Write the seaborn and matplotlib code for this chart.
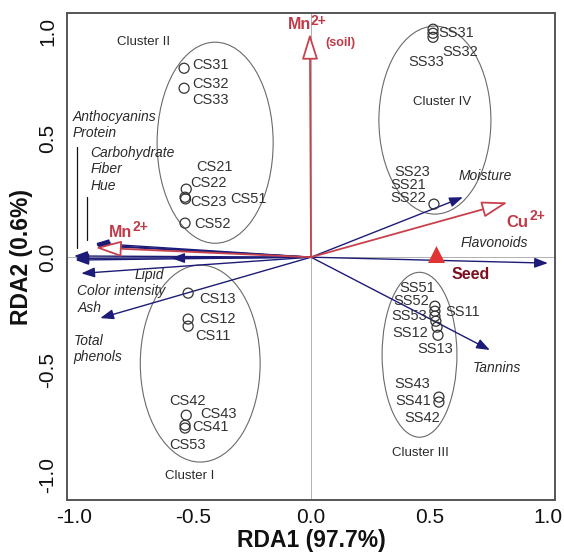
import matplotlib
matplotlib.use("Agg")
import matplotlib.pyplot as plt
from matplotlib.patches import Ellipse
from matplotlib.transforms import ScaledTranslation
import seaborn as sns
import pandas as pd

# ---------------- data ----------------
# sample scores (open circles)
pt_x = [-0.536, -0.536, -0.527, -0.532, -0.530, -0.532,
        0.515, 0.515, 0.515, 0.519,
        -0.519, -0.519, -0.519, -0.527, -0.532, -0.532,
        0.523, 0.523, 0.523, 0.527, 0.532, 0.536, 0.540, 0.540]
pt_y = [0.794, 0.710, 0.286, 0.252, 0.245, 0.143,
        0.958, 0.941, 0.924, 0.223,
        -0.151, -0.260, -0.290, -0.664, -0.706, -0.718,
        -0.206, -0.227, -0.248, -0.269, -0.294, -0.328, -0.588, -0.609]

# sample labels
lab_names = ["CS31", "CS32", "CS33", "CS21", "CS22", "CS23", "CS51", "CS52",
             "SS31", "SS32", "SS33", "SS23", "SS21", "SS22",
             "CS13", "CS12", "CS11", "CS42", "CS43", "CS41", "CS53",
             "SS51", "SS52", "SS11", "SS53", "SS12", "SS13", "SS43", "SS41", "SS42"]
lab_x = [-0.426, -0.426, -0.426, -0.409, -0.435, -0.435, -0.266, -0.418,
         0.612, 0.629, 0.485, 0.426, 0.409, 0.409,
         -0.397, -0.397, -0.414, -0.523, -0.392, -0.426, -0.523,
         0.447, 0.422, 0.641, 0.414, 0.418, 0.523, 0.426, 0.430, 0.468]
lab_y = [0.807, 0.727, 0.660, 0.378, 0.311, 0.231, 0.244, 0.139,
         0.941, 0.861, 0.819, 0.357, 0.303, 0.248,
         -0.176, -0.261, -0.332, -0.605, -0.660, -0.714, -0.790,
         -0.130, -0.185, -0.231, -0.248, -0.319, -0.387, -0.534, -0.605, -0.676]

# clusters (ellipses)
cl_names = ["Cluster II", "Cluster IV", "Cluster I", "Cluster III"]
cl_cx = [-0.405, 0.523, -0.468, 0.458]
cl_cy = [0.481, 0.576, -0.447, -0.410]
cl_w = [0.490, 0.473, 0.506, 0.316]
cl_h = [0.845, 0.790, 0.828, 0.693]
cl_lx = [-0.709, 0.553, -0.511, 0.460]
cl_ly = [0.903, 0.651, -0.920, -0.824]

# response variables (blue arrows)
var_names = ["Anthocyanins", "Protein", "Carbohydrate", "Fiber", "Hue", "Lipid",
             "Color intensity", "Ash", "Total phenols", "Moisture", "Flavonoids", "Tannins"]
var_x = [-1.000, -0.995, -0.910, -0.905, -0.910, -0.970, -0.590, -0.995, -0.890, 0.641, 1.000, 0.755]
var_y = [0.005, -0.005, 0.058, 0.048, 0.052, -0.068, -0.004, -0.012, -0.256, 0.252, -0.025, -0.390]

# explanatory variables (red arrows)
exp_names = ["Mn soil", "Cu", "Mn seed"]
exp_x = [-0.005, 0.830, -0.910]
exp_y = [0.940, 0.230, 0.040]

seed_x = [0.527]
seed_y = [0.013]

# ---------------- style ----------------
sns.set_theme(style="white")
plt.rcParams["font.family"] = ["Liberation Sans", "DejaVu Sans"]

NAVY = "#1c1c78"
RED = "#c8424e"
LABRED = "#c03a48"
MAROON = "#7a1020"
TXT = "#2a2a2a"

fig = plt.figure(figsize=(5.64, 5.53), dpi=100)
ax = fig.add_axes([0.119, 0.096, 0.865, 0.880])
ax.set_xlim(-1.03, 1.03)
ax.set_ylim(-1.02, 1.025)

ax.axhline(0, color="#b0b0b0", lw=0.7, zorder=0)
ax.axvline(0, color="#b0b0b0", lw=0.7, zorder=0)

# ellipses and cluster labels
for cx, cy, w, h, nm, lx, ly in zip(cl_cx, cl_cy, cl_w, cl_h, cl_names, cl_lx, cl_ly):
    ax.add_patch(Ellipse((cx, cy), w, h, fill=False, ec="#6a6a6a", lw=0.8, zorder=1))
    ax.text(lx, ly, nm, ha="center", va="center", fontsize=9.5, color=TXT)

# blue arrows
for vx, vy in zip(var_x, var_y):
    ax.annotate("", xy=(vx, vy), xytext=(0, 0),
                arrowprops=dict(arrowstyle="-|>,head_length=0.8,head_width=0.3",
                                color=NAVY, lw=1.0, shrinkA=0, shrinkB=0,
                                mutation_scale=10), zorder=3)

# red arrows
for ex, ey in zip(exp_x, exp_y):
    ax.annotate("", xy=(ex, ey), xytext=(0, 0),
                arrowprops=dict(arrowstyle="-|>,head_length=1.6,head_width=0.5",
                                fc="white", ec=RED, lw=1.3, shrinkA=0, shrinkB=0,
                                mutation_scale=10), zorder=4)

# sample points
df = pd.DataFrame({"x": pt_x, "y": pt_y})
sns.scatterplot(data=df, x="x", y="y", ax=ax, marker="o", s=52,
                fc="none", ec="#333333", linewidth=0.9, zorder=5, legend=False)
sns.scatterplot(x=seed_x, y=seed_y, ax=ax, marker="^", s=150,
                color="#e03434", linewidth=0, zorder=5, legend=False)

for nm, lx, ly in zip(lab_names, lab_x, lab_y):
    ax.text(lx, ly, nm, ha="center", va="center", fontsize=10.5, color="#333333", zorder=6)

# variable labels (italic)
ital = dict(fontsize=10, style="italic", color=TXT)
ax.text(-1.008, 0.588, "Anthocyanins", ha="left", va="center", **ital)
ax.text(-1.008, 0.521, "Protein", ha="left", va="center", **ital)
ax.text(-0.932, 0.437, "Carbohydrate", ha="left", va="center", **ital)
ax.text(-0.932, 0.370, "Fiber", ha="left", va="center", **ital)
ax.text(-0.932, 0.298, "Hue", ha="left", va="center", **ital)
ax.text(-0.684, -0.076, "Lipid", ha="center", va="center", **ital)
ax.text(-0.987, -0.143, "Color intensity", ha="left", va="center", **ital)
ax.text(-0.987, -0.214, "Ash", ha="left", va="center", **ital)
ax.text(-1.004, -0.386, "Total\nphenols", ha="left", va="center", linespacing=1.25, **ital)
ax.text(0.734, 0.340, "Moisture", ha="center", va="center", **ital)
ax.text(0.772, 0.059, "Flavonoids", ha="center", va="center", **ital)
ax.text(0.785, -0.466, "Tannins", ha="center", va="center", **ital)

# leader lines
ax.plot([-0.987, -0.987], [0.462, 0.038], color="#111111", lw=0.9, zorder=2)
ax.plot([-0.945, -0.945], [0.252, 0.071], color="#111111", lw=0.9, zorder=2)

# red labels
bold_red = dict(fontweight="bold", color=LABRED)
ax.text(-0.050, 0.977, "Mn", ha="center", va="center", fontsize=11.5, **bold_red)
ax.text(0.030, 0.993, "2+", ha="center", va="center", fontsize=10, **bold_red)
ax.text(0.122, 0.899, "(soil)", ha="center", va="center", fontsize=9, **bold_red)
ax.text(-0.806, 0.105, "Mn", ha="center", va="center", fontsize=11.5, **bold_red)
ax.text(-0.722, 0.128, "2+", ha="center", va="center", fontsize=10, **bold_red)
ax.text(0.872, 0.145, "Cu", ha="center", va="center", fontsize=12, **bold_red)
ax.text(0.955, 0.172, "2+", ha="center", va="center", fontsize=10, **bold_red)
ax.text(0.675, -0.071, "Seed", ha="center", va="center", fontsize=11.5,
        fontweight="bold", color=MAROON)

# axes
ticks = [-1.0, -0.5, 0.0, 0.5, 1.0]
tick_labels = ["-1.0", "-0.5", "0.0", "0.5", "1.0"]
ax.set_xticks(ticks)
ax.set_xticklabels(tick_labels, fontsize=15, color="#111111")
ax.set_yticks(ticks)
ax.set_yticklabels(tick_labels, fontsize=15, color="#111111", rotation=90, va="center")
ax.tick_params(axis="both", direction="inout", length=6, width=1, color="#555555", pad=3)
ax.tick_params(axis="y", pad=4)
ax.set_xlabel("RDA1 (97.7%)", fontsize=16.5, fontweight="bold", color="#111111", labelpad=1)
ax.set_ylabel("RDA2 (0.6%)", fontsize=16.5, fontweight="bold", color="#111111", labelpad=4)
for sp in ax.spines.values():
    sp.set_color("#555555")
    sp.set_linewidth(1.4)

# the outer y tick labels sit a little inside their ticks in the reference
shifts = {-1.0: 20, -0.5: 6, 1.0: -12}
for tick, val in zip(ax.yaxis.get_major_ticks(), ticks):
    if val in shifts:
        lbl = tick.label1
        lbl.set_transform(lbl.get_transform() +
                          ScaledTranslation(0, shifts[val] / 72.0 * 0.72, fig.dpi_scale_trans))

fig.savefig("out.png", dpi=100)
